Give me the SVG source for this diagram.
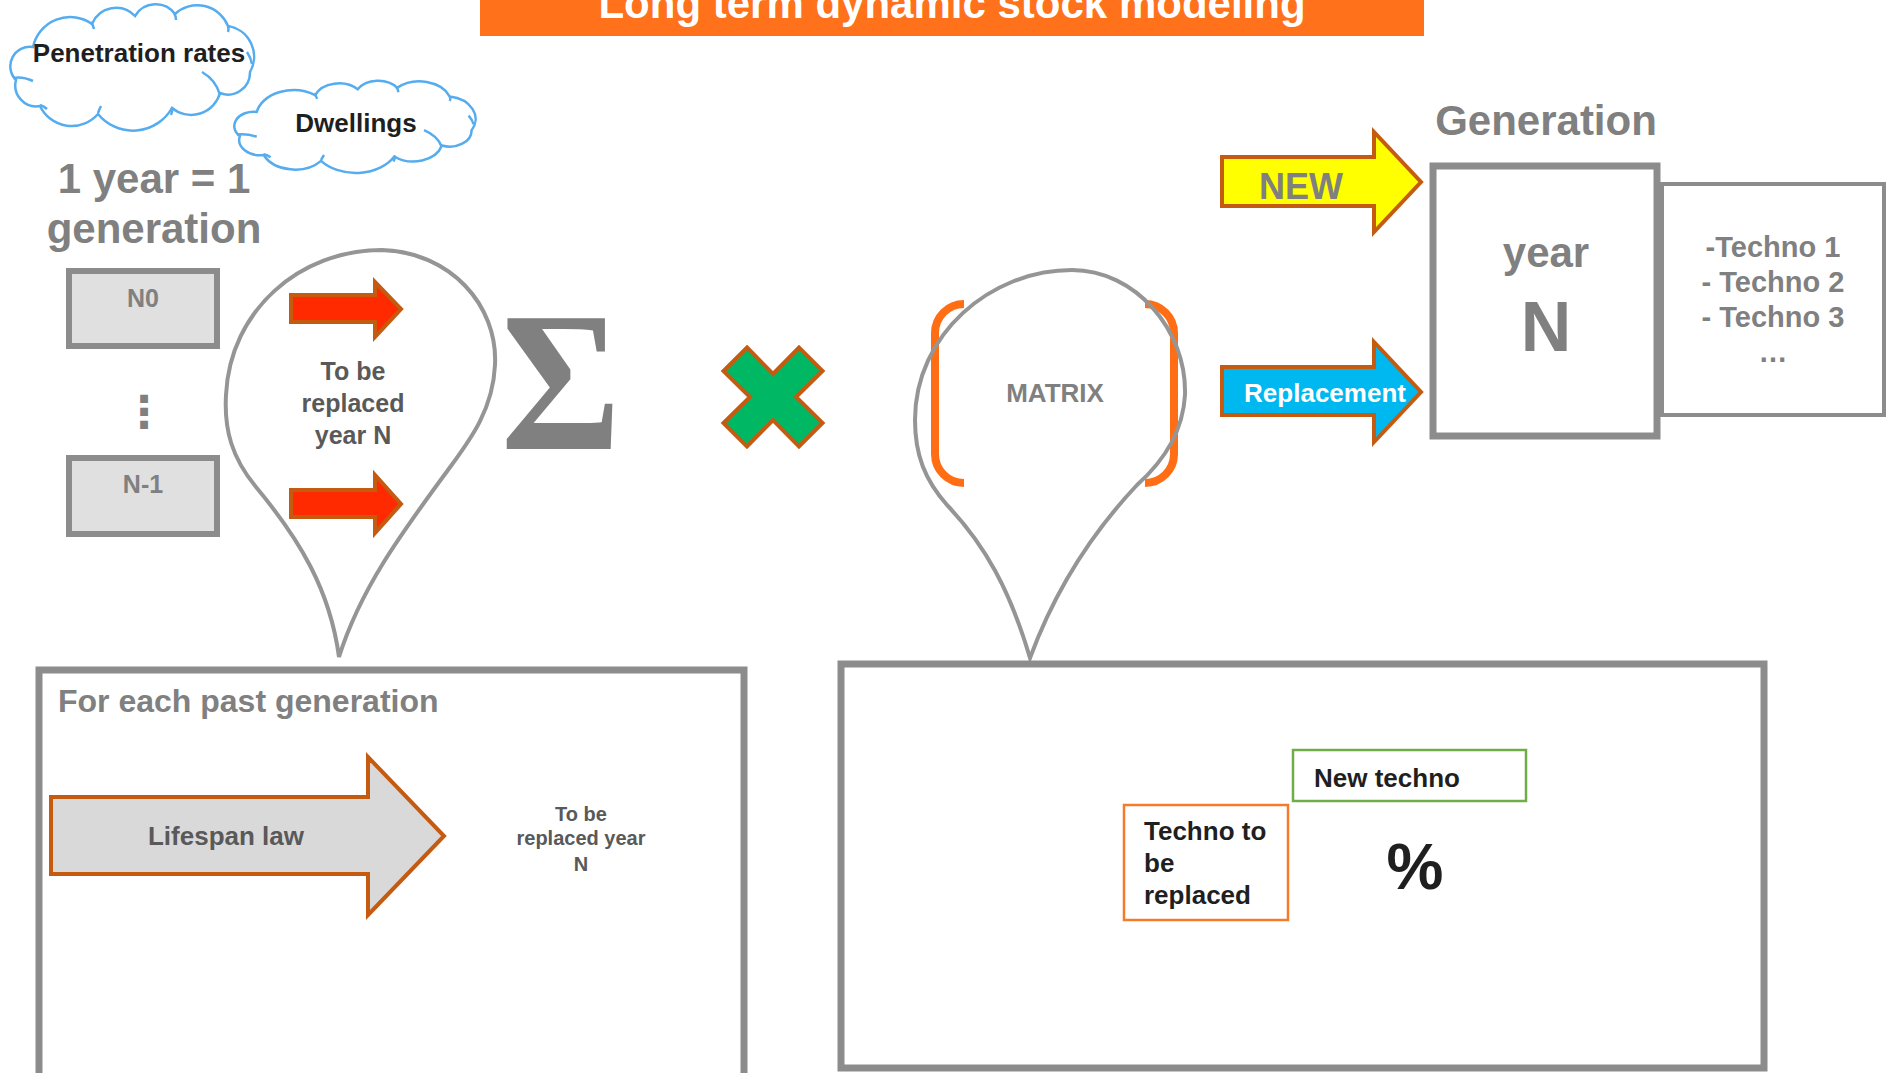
<svg xmlns="http://www.w3.org/2000/svg" width="1892" height="1073" viewBox="0 0 1892 1073">
<style>
text { font-family: "Liberation Sans", Arial, sans-serif; font-weight: bold; }
.gray { fill: #808080; }
.dk { fill: #595959; }
.blk { fill: #1f1f1f; }
.wht { fill: #ffffff; }
.mid { text-anchor: middle; }
.serif { font-family: "Liberation Serif", "Times New Roman", serif; }
.dv { font-family: "DejaVu Sans", sans-serif; }
.box { fill: none; stroke: #8c8c8c; stroke-width: 7; }
.thin { fill: none; stroke: #8c8c8c; stroke-width: 4; }
.gen { fill: #e0e0e0; stroke: #8c8c8c; stroke-width: 6; }
.pin { fill: none; stroke: #959595; stroke-width: 4; }
.cloud { fill: #ffffff; stroke: #55acee; stroke-width: 2.5; vector-effect: non-scaling-stroke; }
.cin { fill: none; stroke: #55acee; stroke-width: 2.5; vector-effect: non-scaling-stroke; }
.arr { stroke: #c55a11; stroke-width: 4; }
.brk { fill: none; stroke: #ff6e14; stroke-width: 8; }
</style>
<defs>
<g id="cloudShape">
<path class="cloud" d="M33,47 A38,38 0 0 1 92,24 A26,26 0 0 1 135,16 A24,24 0 0 1 175,14 A33,33 0 0 1 228,26 A31,31 0 0 1 250,72 A22,22 0 0 1 220,93 A30,30 0 0 1 172,108 A45,45 0 0 1 98,114 A35,35 0 0 1 40,106 A21,21 0 0 1 16,80 A19.5,19.5 0 0 1 33,47 Z"/>
<path class="cin" d="M13,78 Q22,76 33,81 M202,72 Q216,80 220,95 M91,22 Q93,25 94,29 M174,13 Q176,16 176,20 M247,52 Q251,58 252,64 M172,107 Q173,111 171,115 M98,113 Q99,110 101,106 M40,105 Q44,106 47,109 M228,26 Q229,29 228,32"/>
</g>
</defs>

<g id="title">
<rect x="480" y="0" width="944" height="36" fill="#ff711a"/>
<text class="wht mid" x="952" y="18" font-size="42">Long term dynamic stock modeling</text>
</g>

<g id="cloud-penetration">
<use href="#cloudShape"/>
<text class="blk mid" x="139" y="62" font-size="26">Penetration rates</text>
</g>

<g id="cloud-dwellings">
<use href="#cloudShape" transform="translate(230,82) scale(0.99,0.73) translate(-6,-6)"/>
<text class="blk mid" x="356" y="132" font-size="26">Dwellings</text>
</g>

<g id="label-year-generation">
<text class="gray mid" x="154" y="193" font-size="42">1 year = 1</text>
<text class="gray mid" x="154" y="243" font-size="42">generation</text>
</g>

<g id="gen-N0">
<rect class="gen" x="69" y="271" width="148" height="75"/>
<text class="gray mid" x="143" y="307" font-size="25">N0</text>
</g>

<g id="gen-dots">
<text class="gray mid dv" x="144" y="427" font-size="44">⋮</text>
</g>

<g id="gen-N-1">
<rect class="gen" x="69" y="458" width="148" height="76"/>
<text class="gray mid" x="143" y="493" font-size="25">N-1</text>
</g>

<g id="pin-replaced">
<path class="pin" d="M339,657 C330,590 300,540 256,487 C232,458 224,430 226,395 C230,310 300,250 382,250 C450,252 498,305 495,365 C493,410 470,440 448,470 C400,535 360,590 339,657 Z"/>
<text class="dk mid" x="353" y="380" font-size="25">To be</text>
<text class="dk mid" x="353" y="412" font-size="25">replaced</text>
<text class="dk mid" x="353" y="444" font-size="25">year N</text>
</g>

<g id="sum">
<text class="gray mid serif" transform="translate(561,449) scale(0.92,1)" x="0" y="0" font-size="200">Σ</text>
</g>

<g id="multiply">
<polygon points="747,347.5 773,374 799,347.5 822.5,371 796,397 822.5,423 799,446.5 773,420 747,446.5 723.5,423 750,397 723.5,371" fill="#00b863" stroke="#c55a11" stroke-width="4"/>
</g>

<g id="matrix">
<path class="brk" d="M964,304 A29,29 0 0 0 935,333 V454 A29,29 0 0 0 964,483"/>
<path class="brk" d="M1145,304 A29,29 0 0 1 1174,333 V454 A29,29 0 0 1 1145,483"/>
<path class="pin" d="M1030,658 C1010,590 985,545 947,505 C925,480 915,455 915,420 C915,335 990,270 1072,270 C1135,270 1187,330 1185,395 C1183,430 1165,460 1137,485 C1090,535 1055,590 1030,658 Z"/>
<text class="gray mid" x="1055" y="402" font-size="26">MATRIX</text>
</g>

<g id="generation-label">
<text class="gray mid" x="1546" y="135" font-size="42">Generation</text>
</g>

<g id="techno-list">
<rect class="thin" x="1662" y="184" width="222" height="231"/>
<text class="gray mid" x="1773" y="257" font-size="29">-Techno 1</text>
<text class="gray mid" x="1773" y="292" font-size="29">- Techno 2</text>
<text class="gray mid" x="1773" y="327" font-size="29">- Techno 3</text>
<text class="gray mid" x="1773" y="362" font-size="29">…</text>
</g>

<g id="year-N">
<rect class="box" x="1433" y="166" width="224" height="270" fill="#ffffff"/>
<text class="gray mid" x="1546" y="267" font-size="42">year</text>
<text class="gray mid" x="1546" y="351" font-size="70">N</text>
</g>

<g id="past-generation-box">
<rect class="box" x="39" y="670" width="705" height="420"/>
<text class="gray" x="58" y="712" font-size="32">For each past generation</text>
<text class="dk mid" x="581" y="821" font-size="20">To be</text>
<text class="dk mid" x="581" y="845" font-size="20">replaced year</text>
<text class="dk mid" x="581" y="871" font-size="20">N</text>
</g>

<g id="matrix-box">
<rect class="box" x="841" y="664" width="923" height="404"/>
<rect x="1293" y="750" width="233" height="51" fill="none" stroke="#70ad47" stroke-width="2.5"/>
<text class="blk" x="1314" y="787" font-size="26">New techno</text>
<rect x="1124" y="805" width="164" height="115" fill="none" stroke="#f47b2a" stroke-width="2.5"/>
<text class="blk" x="1144" y="840" font-size="26">Techno to</text>
<text class="blk" x="1144" y="872" font-size="26">be</text>
<text class="blk" x="1144" y="904" font-size="26">replaced</text>
<text class="blk mid" x="1415" y="889" font-size="64">%</text>
</g>

<g id="connectors">
<polygon class="arr" points="291,295 375,295 375,282 401,309 375,337 375,322 291,322" fill="#ff2a00" stroke-width="3"/>
<polygon class="arr" points="291,490 375,490 375,475 401,504 375,533 375,517 291,517" fill="#ff2a00" stroke-width="3"/>
<g id="arrow-new">
<polygon class="arr" points="1222,157 1374,157 1374,132 1421,182 1374,232 1374,206 1222,206" fill="#ffff00"/>
<text class="gray mid" x="1301" y="199" font-size="36">NEW</text>
</g>
<g id="arrow-replacement">
<polygon class="arr" points="1222,367 1374,367 1374,342 1421,392 1374,442 1374,415 1222,415" fill="#00b8f0"/>
<text class="wht mid" x="1325" y="402" font-size="26">Replacement</text>
</g>
<g id="arrow-lifespan">
<polygon class="arr" points="51,797 368,797 368,757 444,836 368,915 368,874 51,874" fill="#d9d9d9"/>
<text class="dk mid" x="226" y="845" font-size="26">Lifespan law</text>
</g>
</g>
</svg>
